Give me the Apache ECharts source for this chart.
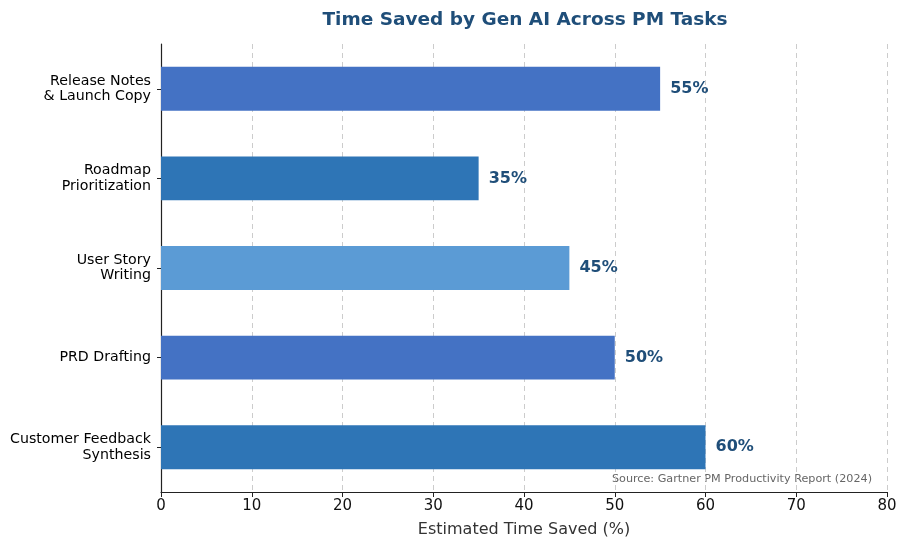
<!DOCTYPE html>
<html>
<head>
<meta charset="utf-8">
<script src="https://cdn.jsdelivr.net/npm/echarts@6/dist/echarts.min.js"></script>
<style>
  html, body { margin: 0; padding: 0; background: #fff; }
  #chart { width: 906px; height: 547px; }
</style>
</head>
<body>
<div id="chart"></div>
<script>
// top to bottom order
var tasks = ['Release Notes\n& Launch Copy', 'Roadmap\nPrioritization', 'User Story\nWriting', 'PRD Drafting', 'Customer Feedback\nSynthesis'];
var saved = [55, 35, 45, 50, 60];
var barColors = ['#4472C4', '#2E75B6', '#5B9BD5', '#4472C4', '#2E75B6'];
var xTicks = [0, 10, 20, 30, 40, 50, 60, 70, 80];

var font = 'DejaVu Sans, sans-serif';

var myChart = echarts.init(document.getElementById('chart'));

var option = {
    animation: false,
    textStyle: { fontFamily: font },
    title: {
        text: 'Time Saved by Gen AI Across PM Tasks',
        left: 520,
        textAlign: 'center',
        top: 6,
        textStyle: { fontSize: 18.5, fontWeight: 'bold', color: '#1F4E79', fontFamily: font }
    },
    grid: { left: 161, right: 19, top: 44, bottom: 55 },
    xAxis: {
        type: 'value',
        min: 0,
        max: 80,
        interval: 10,
        name: 'Estimated Time Saved (%)',
        nameLocation: 'middle',
        nameGap: 30,
        nameTextStyle: { fontSize: 16, color: '#333', fontFamily: font },
        axisLine: { show: true, lineStyle: { color: '#222', width: 1.2 } },
        axisTick: { show: true, length: 5, lineStyle: { color: '#222' } },
        axisLabel: {
            fontSize: 15, color: '#111', margin: 7, fontFamily: font,
            formatter: function (v) { return xTicks.indexOf(v) >= 0 ? String(v) : ''; }
        },
        splitLine: { show: true, lineStyle: { color: '#cccccc', type: [5, 4], width: 1 } }
    },
    yAxis: {
        type: 'category',
        data: tasks,
        inverse: true,
        axisLine: { show: true, lineStyle: { color: '#222', width: 1.2 } },
        axisTick: { show: true, alignWithLabel: true, length: 4, lineStyle: { color: '#222' } },
        axisLabel: { fontSize: 14.2, color: '#000', margin: 10, lineHeight: 15.5, align: 'right', fontFamily: font, padding: [3, 0, 0, 0] }
    },
    series: [{
        type: 'bar',
        data: saved.map(function (v, i) {
            return { value: v, itemStyle: { color: barColors[i] } };
        }),
        barWidth: '49%',
        label: {
            show: true,
            position: 'right',
            distance: 10,
            formatter: '{c}%',
            fontSize: 16,
            fontWeight: 'bold',
            color: '#1F4E79',
            fontFamily: font
        }
    }],
    graphic: [{
        type: 'text',
        right: 34,
        top: 474,
        style: {
            text: 'Source: Gartner PM Productivity Report (2024)',
            fontSize: 11.2,
            fill: '#666',
            fontFamily: font
        }
    }]
};

myChart.setOption(option);
</script>
</body>
</html>
